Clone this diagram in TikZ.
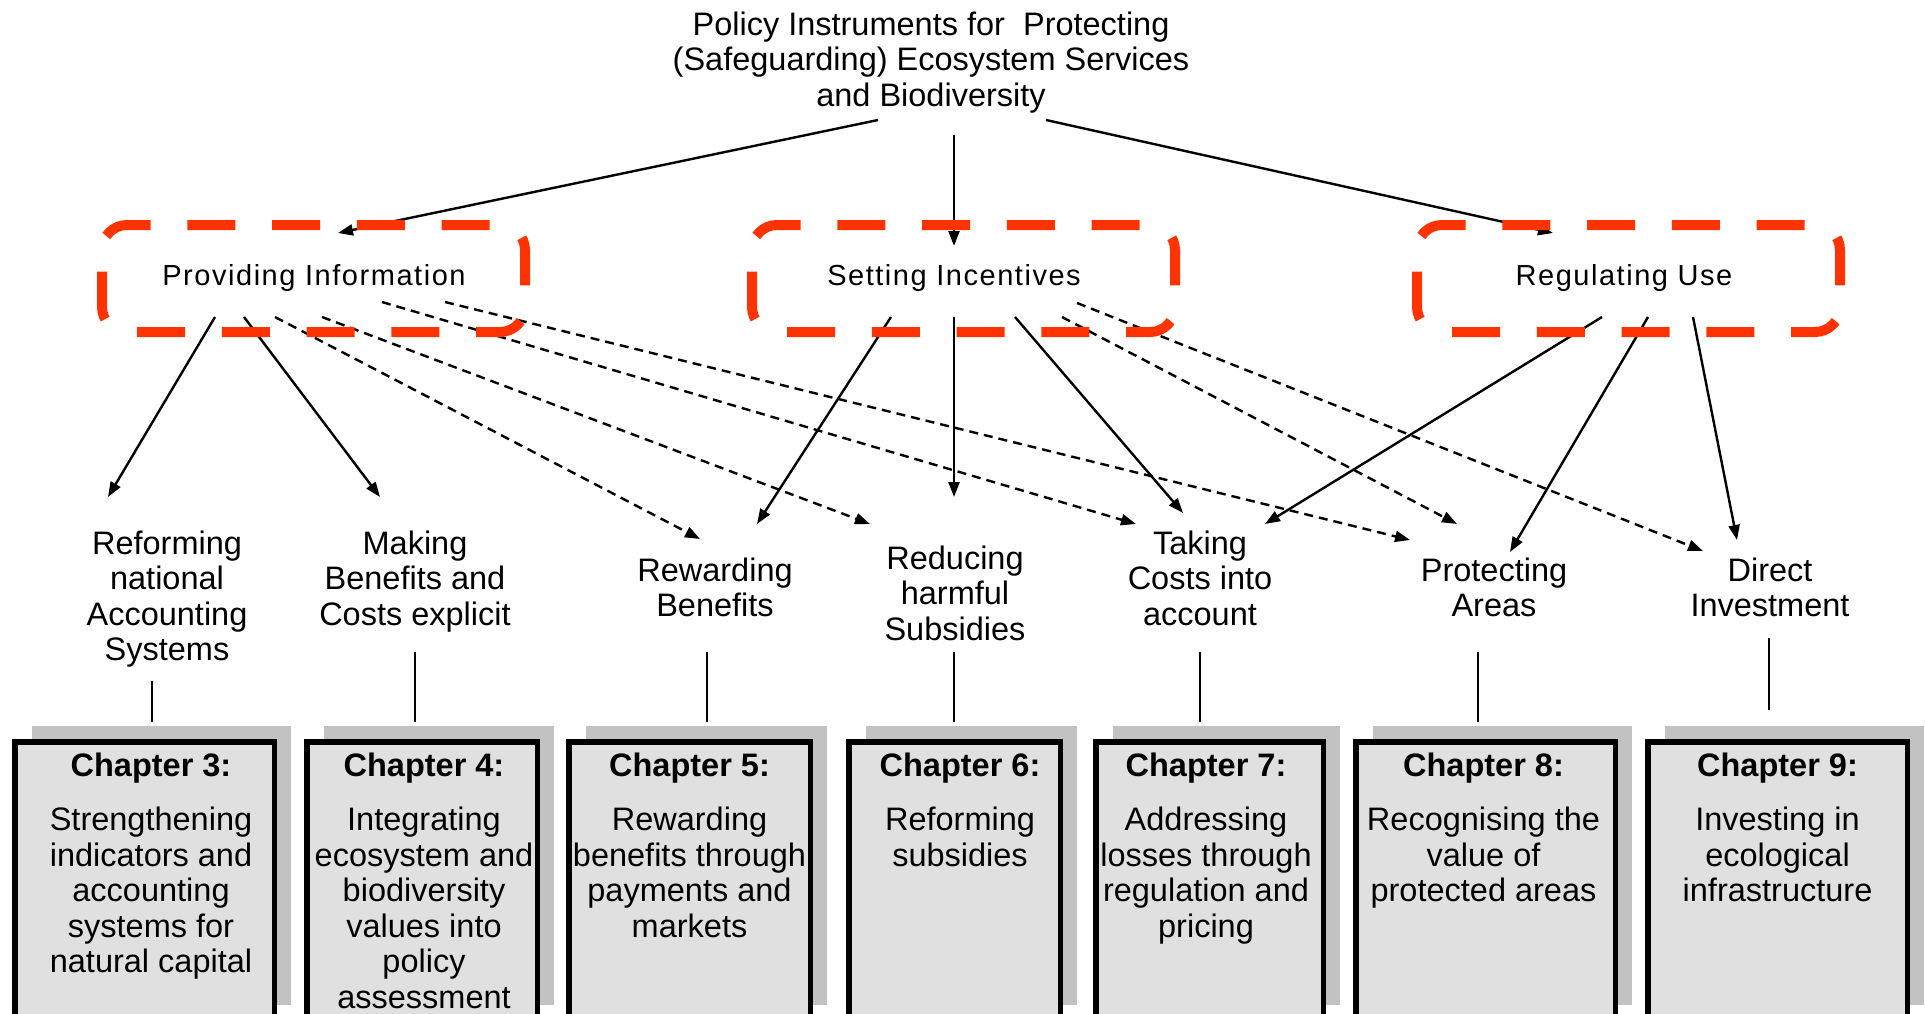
\documentclass[tikz,border=0pt]{standalone}
\usepackage{fontspec}
\setmainfont{Liberation Sans}
\newfontfamily\trackedsans[LetterSpace=5.3]{Liberation Sans}
\usetikzlibrary{arrows.meta,positioning,calc,shadows}
\definecolor{hilite}{RGB}{255,51,0}
\definecolor{boxgray}{RGB}{224,224,224}
\definecolor{shadegray}{RGB}{194,194,194}
\tikzstyle{headline}=[align=center,inner sep=0pt,anchor=north,font=\fontsize{32.5}{35.6}\selectfont]
\tikzstyle{instrument}=[inner sep=0pt,anchor=base,font=\trackedsans\fontsize{29}{34}\selectfont]
\tikzstyle{measure}=[align=center,inner sep=0pt,anchor=north,font=\fontsize{32.5}{35.5}\selectfont]
\tikzstyle{chapterbox}=[draw=black,line width=5.5pt,fill=boxgray,anchor=north,minimum height=279pt,drop shadow={shadow xshift=17pt,shadow yshift=16pt,opacity=1,fill=shadegray}]
\tikzstyle{chaptext}=[align=center,inner sep=0pt,font=\fontsize{32.5}{35.5}\selectfont]
\tikzstyle{hint}=[dash pattern=on 9pt off 6pt]
\tikzstyle{highlight}=[-,draw=hilite,line width=10pt,rounded corners=25pt,dash pattern=on 48pt off 36.76pt,dash phase=66.38pt]

\begin{document}
\begin{tikzpicture}[x=1pt,y=-1pt,->,>={Triangle[length=15pt,width=11pt]},line width=2.4pt]
  \useasboundingbox (0,0) rectangle (1925,1014);
  \clip (0,0) rectangle (1925,1014);

  \node[headline] (T) at (931,10.4) {Policy Instruments for\ \ Protecting\\(Safeguarding) Ecosystem Services\\and Biodiversity};

  \node[instrument] (PI) at (314,285.5) {Providing Information};
  \node[instrument] (SI) at (954,285.5) {Setting Incentives};
  \node[instrument] (RU) at (1624,285.5) {Regulating Use};

  \node[measure] (M1) at (167,529.4) {Reforming\\national\\Accounting\\Systems};
  \node[measure] (M2) at (415,529.4) {Making\\Benefits and\\Costs explicit};
  \node[measure] (M3) at (715,556.4) {Rewarding\\Benefits};
  \node[measure] (M4) at (955,544.4) {Reducing\\harmful\\Subsidies};
  \node[measure] (M5) at (1200,529.4) {Taking\\Costs into\\account};
  \node[measure] (M6) at (1494,556.4) {Protecting\\Areas};
  \node[measure] (M7) at (1770,556.4) {Direct\\Investment};

  % chapter boxes, text hangs from the top edge
  \node[chapterbox,minimum width=259.5pt] (C3) at (144.5,739) {};
  \node[chapterbox,minimum width=230.5pt] (C4) at (422,739) {};
  \node[chapterbox,minimum width=241.5pt] (C5) at (689.5,739) {};
  \node[chapterbox,minimum width=211.5pt] (C6) at (954.5,739) {};
  \node[chapterbox,minimum width=227.5pt] (C7) at (1209.5,739) {};
  \node[chapterbox,minimum width=259.5pt] (C8) at (1485.5,739) {};
  \node[chapterbox,minimum width=259.5pt] (C9) at (1777.5,739) {};

  \node[chaptext,below=13pt of C3.north,xshift=6.5pt] (T3) {\textbf{Chapter 3:}\\[18.5pt]Strengthening\\indicators and\\accounting\\systems for\\natural capital};
  \node[chaptext,below=13pt of C4.north,xshift=2pt] (T4) {\textbf{Chapter 4:}\\[18.5pt]Integrating\\ecosystem and\\biodiversity\\values into\\policy\\assessment};
  \node[chaptext,below=13pt of C5.north] (T5) {\textbf{Chapter 5:}\\[18.5pt]Rewarding\\benefits through\\payments and\\markets};
  \node[chaptext,below=13pt of C6.north,xshift=5.5pt] (T6) {\textbf{Chapter 6:}\\[18.5pt]Reforming\\subsidies};
  \node[chaptext,below=13pt of C7.north,xshift=-3.5pt] (T7) {\textbf{Chapter 7:}\\[18.5pt]Addressing\\losses through\\regulation and\\pricing};
  \node[chaptext,below=13pt of C8.north,xshift=-2pt] (T8) {\textbf{Chapter 8:}\\[18.5pt]Recognising the\\value of\\protected areas};
  \node[chaptext,below=13pt of C9.north] (T9) {\textbf{Chapter 9:}\\[18.5pt]Investing in\\ecological\\infrastructure};

  % title to the three instrument groups
  \path ($(T.north)+(-53,109.6)$) edge ($(PI.base)+(24,-52.5)$)
        ($(T.north)+(23,124.6)$) edge ($(SI.base)+(0,-39.5)$)
        ($(T.north)+(115,109.6)$) edge ($(RU.base)+(-71,-52.5)$);

  % direct links
  \path ($(PI.base)+(-99,31.5)$) edge ($(M1.north)+(-59,-32.4)$)
        ($(PI.base)+(-70,31.5)$) edge ($(M2.north)+(-35,-32.4)$)
        ($(SI.base)+(-63,31.5)$) edge ($(M3.north)+(42,-32.4)$)
        ($(SI.base)+(0,31.5)$) edge ($(M4.north)+(-1,-47.4)$)
        ($(SI.base)+(61,31.5)$) edge ($(M5.north)+(-17,-16.4)$)
        ($(RU.base)+(-22,31.5)$) edge ($(M5.north)+(65,-5.4)$)
        ($(RU.base)+(24,31.5)$) edge ($(M6.north)+(16,-4.4)$)
        ($(RU.base)+(69,31.5)$) edge ($(M7.north)+(-33,-16.4)$);

  % supporting links
  \path ($(PI.base)+(-39,31.5)$) edge[hint] ($(M3.north)+(-15,-17.4)$)
        ($(PI.base)+(8,31.5)$) edge[hint] ($(M4.north)+(-85,-20.4)$)
        ($(PI.base)+(68,16.5)$) edge[hint] ($(M5.north)+(-64,-5.4)$)
        ($(PI.base)+(131,16.5)$) edge[hint] ($(M6.north)+(-84,-16.4)$)
        ($(SI.base)+(108,31.5)$) edge[hint] ($(M6.north)+(-37,-32.4)$)
        ($(SI.base)+(123,17.5)$) edge[hint] ($(M7.north)+(-67,-5.4)$);

  % measures down to their chapters
  \path ($(M1.north)+(-15,151.6)$) edge[-] ($(C3.north)+(7.5,-17)$)
        ($(M2.north)+(0,122.6)$) edge[-] ($(C4.north)+(-7,-17)$)
        ($(M3.north)+(-8,95.6)$) edge[-] ($(C5.north)+(17.5,-17)$)
        ($(M4.north)+(-1,107.6)$) edge[-] ($(C6.north)+(-0.5,-17)$)
        ($(M5.north)+(0,122.6)$) edge[-] ($(C7.north)+(-9.5,-17)$)
        ($(M6.north)+(-16,95.6)$) edge[-] ($(C8.north)+(-7.5,-17)$)
        ($(M7.north)+(-1,81.6)$) edge[-] ($(C9.north)+(-8.5,-29)$);

  % red frames over the groups
  \foreach \bx in {102,752,1417}
    \draw[highlight] (\bx,278.5) -- (\bx,225) -- (\bx+423,225) -- (\bx+423,332) -- (\bx,332) -- cycle;
\end{tikzpicture}
\end{document}
